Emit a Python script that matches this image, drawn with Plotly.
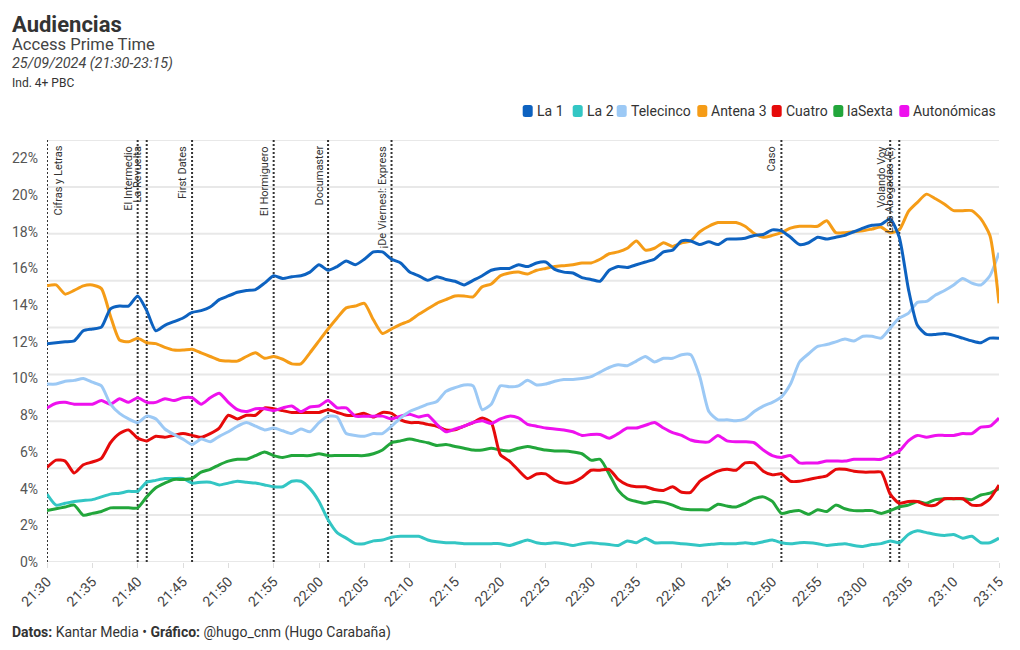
import plotly.graph_objects as go
import pandas as pd

# ---------------- DATA ----------------
times = pd.date_range("2024-09-25 21:30", "2024-09-25 23:15", freq="1min")

la1 = [11.9, 11.95, 12.0, 12.05, 12.6, 12.7, 12.8, 13.8, 13.95, 13.95,
       14.5, 13.7, 12.6, 12.9, 13.1, 13.3, 13.6, 13.7, 13.9, 14.3,
       14.5, 14.7, 14.8, 14.85, 15.2, 15.6, 15.45, 15.55, 15.6, 15.8,
       16.2, 15.9, 16.1, 16.4, 16.2, 16.5, 16.9, 16.9, 16.5, 16.3,
       15.8, 15.6, 15.35, 15.55, 15.4, 15.3, 15.1, 15.35, 15.6, 15.9,
       16.0, 16.0, 16.2, 16.1, 16.3, 16.35, 15.95, 15.8, 15.75, 15.5,
       15.4, 15.3, 15.9, 16.1, 16.05, 16.2, 16.35, 16.5, 16.9, 17.0,
       17.5, 17.5, 17.3, 17.45, 17.3, 17.6, 17.6, 17.65, 17.8, 17.85,
       18.1, 18.05, 17.7, 17.3, 17.4, 17.7, 17.6, 17.7, 17.8, 18.0,
       18.2, 18.35, 18.4, 18.7, 17.7, 14.9, 12.9, 12.4, 12.4, 12.45,
       12.35, 12.2, 12.05, 11.95, 12.2, 12.2]

la2 = [3.7, 3.1, 3.2, 3.3, 3.35, 3.4, 3.55, 3.7, 3.75, 3.85,
       3.85, 4.35, 4.45, 4.55, 4.55, 4.55, 4.3, 4.35, 4.35, 4.2,
       4.3, 4.4, 4.35, 4.3, 4.2, 4.1, 4.1, 4.4, 4.4, 4.0,
       3.3, 2.3, 1.6, 1.3, 1.0, 1.0, 1.15, 1.2, 1.35, 1.4,
       1.4, 1.4, 1.2, 1.1, 1.05, 1.05, 1.0, 1.0, 1.0, 1.0,
       1.0, 0.9, 1.05, 1.2, 1.05, 1.0, 1.05, 1.0, 0.9, 1.0,
       1.05, 1.0, 0.95, 0.9, 1.15, 1.05, 1.3, 1.05, 1.05, 1.05,
       1.0, 0.95, 0.9, 0.95, 1.0, 1.0, 1.0, 1.05, 1.0, 1.1,
       1.2, 1.05, 1.0, 1.05, 1.05, 1.0, 0.9, 0.95, 1.0, 0.9,
       0.85, 0.95, 1.0, 1.15, 1.05, 1.5, 1.7, 1.6, 1.5, 1.45,
       1.5, 1.3, 1.4, 1.05, 1.05, 1.3]

telecinco = [9.7, 9.7, 9.85, 9.9, 10.0, 9.8, 9.6, 8.6, 8.1, 7.8,
             7.6, 7.95, 7.8, 7.25, 6.95, 6.7, 6.4, 6.7, 6.55, 6.85,
             7.1, 7.4, 7.6, 7.4, 7.2, 7.3, 7.15, 7.0, 7.25, 7.1,
             7.6, 7.95, 7.9, 7.0, 6.9, 6.85, 7.0, 7.0, 7.4, 7.85,
             8.2, 8.4, 8.6, 8.75, 9.3, 9.5, 9.65, 9.6, 8.3, 8.6,
             9.6, 9.55, 9.6, 9.9, 9.65, 9.7, 9.85, 9.95, 9.95, 10.0,
             10.1, 10.35, 10.6, 10.75, 10.7, 10.95, 11.2, 10.9, 11.1, 11.1,
             11.3, 11.3, 10.1, 8.2, 7.75, 7.75, 7.7, 7.8, 8.2, 8.5,
             8.7, 9.0, 9.7, 10.9, 11.35, 11.75, 11.85, 12.0, 12.15, 12.05,
             12.3, 12.3, 12.2, 12.75, 13.3, 13.55, 14.15, 14.2, 14.55, 14.8,
             15.1, 15.45, 15.2, 15.1, 15.6, 16.85]

antena3 = [15.05, 15.1, 14.6, 14.8, 15.05, 15.1, 14.9, 13.4, 12.1, 12.0,
           12.2, 11.95, 11.9, 11.7, 11.55, 11.55, 11.6, 11.4, 11.2, 11.0,
           10.95, 10.95, 11.2, 11.4, 11.1, 11.2, 11.05, 10.8, 10.8, 11.4,
           12.05, 12.7, 13.3, 13.85, 13.95, 14.1, 13.2, 12.45, 12.7, 12.95,
           13.15, 13.5, 13.8, 14.1, 14.3, 14.5, 14.5, 14.45, 15.0, 15.15,
           15.6, 15.75, 15.8, 15.7, 15.9, 16.0, 16.1, 16.15, 16.2, 16.3,
           16.3, 16.5, 16.8, 16.9, 17.1, 17.5, 17.0, 17.1, 17.4, 17.2,
           17.4, 17.5, 18.0, 18.3, 18.5, 18.5, 18.5, 18.3, 17.9, 17.7,
           17.8, 17.95, 18.2, 18.3, 18.3, 18.3, 18.6, 17.95, 17.95, 18.0,
           18.05, 18.15, 18.25, 17.95, 18.1, 19.1, 19.6, 20.05, 19.8, 19.5,
           19.15, 19.15, 19.15, 18.7, 17.8, 14.1]

cuatro = [5.15, 5.55, 5.5, 4.85, 5.3, 5.45, 5.65, 6.5, 7.0, 7.2,
          6.75, 6.6, 6.85, 6.8, 6.9, 7.0, 6.9, 6.8, 7.0, 7.3,
          8.0, 7.8, 8.0, 8.0, 8.4, 8.35, 8.25, 8.15, 8.15, 8.15,
          8.15, 8.3, 8.15, 8.0, 8.0, 8.1, 7.9, 8.15, 8.1, 7.75,
          7.6, 7.6, 7.5, 7.4, 7.2, 7.2, 7.4, 7.6, 7.85, 7.6,
          5.85, 5.5, 5.0, 4.55, 4.8, 4.8, 4.45, 4.3, 4.35, 4.6,
          5.0, 5.0, 5.05, 4.5, 4.2, 4.1, 4.1, 3.95, 3.9, 4.1,
          3.8, 3.8, 4.4, 4.7, 4.95, 5.05, 5.0, 5.4, 5.4, 4.95,
          4.75, 4.8, 4.4, 4.4, 4.5, 4.6, 4.7, 5.05, 5.05, 4.95,
          4.9, 4.9, 4.9, 3.7, 3.2, 3.3, 3.3, 3.1, 3.1, 3.45,
          3.45, 3.45, 3.1, 3.1, 3.45, 4.2]

lasexta = [2.8, 2.9, 3.0, 3.1, 2.55, 2.65, 2.75, 2.95, 2.95, 2.95,
           2.95, 3.55, 4.05, 4.3, 4.5, 4.5, 4.55, 4.9, 5.05, 5.3,
           5.5, 5.6, 5.6, 5.8, 6.0, 5.8, 5.7, 5.8, 5.8, 5.8,
           5.9, 5.8, 5.8, 5.8, 5.8, 5.8, 5.9, 6.1, 6.5, 6.6,
           6.7, 6.6, 6.5, 6.35, 6.4, 6.3, 6.2, 6.1, 6.1, 6.2,
           6.1, 6.05, 6.2, 6.3, 6.2, 6.1, 6.05, 6.05, 6.0, 5.9,
           5.55, 5.6, 4.8, 3.9, 3.45, 3.3, 3.2, 3.3, 3.25, 3.1,
           2.9, 2.85, 2.85, 2.85, 3.15, 3.05, 3.0, 3.2, 3.45, 3.55,
           3.3, 2.65, 2.75, 2.8, 2.6, 2.85, 2.75, 3.1, 2.9, 2.8,
           2.8, 2.8, 2.65, 2.8, 3.0, 3.1, 3.3, 3.2, 3.4, 3.45,
           3.45, 3.45, 3.4, 3.65, 3.75, 4.0]

autonomicas = [8.4, 8.65, 8.7, 8.6, 8.6, 8.6, 8.8, 8.6, 8.9, 8.7,
               8.95, 8.7, 8.7, 8.9, 8.8, 8.95, 8.95, 8.6, 8.95, 9.2,
               8.7, 8.3, 8.2, 8.35, 8.35, 8.25, 8.4, 8.5, 8.2, 8.45,
               8.5, 8.8, 8.4, 8.4, 7.95, 7.95, 7.95, 7.95, 7.8, 7.95,
               8.05, 7.9, 8.0, 7.5, 7.1, 7.25, 7.4, 7.6, 7.7, 7.55,
               7.8, 7.95, 7.85, 7.5, 7.4, 7.3, 7.25, 7.2, 7.1, 6.9,
               6.95, 6.95, 6.75, 7.0, 7.3, 7.3, 7.45, 7.6, 7.3, 7.05,
               6.9, 6.65, 6.55, 6.55, 6.9, 6.6, 6.55, 6.55, 6.5, 6.1,
               5.8, 5.7, 5.8, 5.4, 5.4, 5.4, 5.5, 5.5, 5.5, 5.6,
               5.6, 5.6, 5.6, 5.8, 6.05, 6.6, 6.9, 6.8, 6.9, 6.9,
               6.9, 7.0, 7.0, 7.35, 7.4, 7.85]

series_names = ["La 1", "La 2", "Telecinco", "Antena 3", "Cuatro", "laSexta", "Autonómicas"]
series_values = [la1, la2, telecinco, antena3, cuatro, lasexta, autonomicas]
series_colors = ["#0d62c0", "#33c6c4", "#9cc9f5", "#f59c17", "#e60a0a", "#22a63b", "#ee11ee"]

program_times = ["21:30", "21:40", "21:41", "21:46", "21:55", "22:01", "22:08", "22:51", "23:03", "23:04"]
program_names = ["Cifras y Letras", "El Intermedio", "La Revuelta", "First Dates", "El Hormiguero",
                 "Documaster", "¡De Viernes!: Express", "Caso", "Volando Voy", "Las Abogadas (E)"]

y_tick_vals = list(range(0, 23, 2))
y_tick_text = [f"{v}%" for v in y_tick_vals]
y_max = 23
n_grid = 9

# ---------------- FIGURE ----------------
FONT = "Roboto, 'Open Sans', sans-serif"
fig = go.Figure()

# draw order: back to front
draw_order = [1, 5, 4, 6, 2, 3, 0]
for i in draw_order:
    fig.add_trace(go.Scatter(
        x=times, y=series_values[i], name=series_names[i], mode="lines",
        line=dict(color=series_colors[i], width=3, shape="spline", smoothing=0.6),
        showlegend=False, hoverinfo="skip"))

shapes = []
# horizontal gridlines
for k in range(n_grid + 1):
    yv = y_max * k / n_grid
    shapes.append(dict(type="line", xref="paper", yref="y", x0=0, x1=1, y0=yv, y1=yv,
                       line=dict(color="#e8e8e8", width=2), layer="below"))

annotations = []
day = "2024-09-25 "
for j, (t, name) in enumerate(zip(program_times, program_names)):
    shapes.append(dict(type="line", xref="x", yref="paper", x0=day + t, x1=day + t, y0=0, y1=1,
                       line=dict(color="#333333", width=2, dash="2px,2px"), layer="below"))
    first = (j == 0)
    annotations.append(dict(
        x=day + t, y=1, xref="x", yref="paper", text=name, showarrow=False,
        textangle=-90, xanchor="left" if first else "right", yanchor="top",
        xshift=2 if first else -1, yshift=-4,
        font=dict(family=FONT, size=11, color="#333333")))

# Titles (positioned in pixels relative to plot area)
plot_left, plot_top, plot_w, plot_h = 47, 140, 952, 422

def px_x(px):
    return (px - plot_left) / plot_w

def px_y(py):
    return (plot_top + plot_h - py) / plot_h

annotations += [
    dict(xref="paper", yref="paper", x=px_x(10), y=px_y(24), xanchor="left", yanchor="middle",
         text="<b>Audiencias</b>", showarrow=False, font=dict(family=FONT, size=22, color="#333333")),
    dict(xref="paper", yref="paper", x=px_x(10), y=px_y(45), xanchor="left", yanchor="middle",
         text="Access Prime Time", showarrow=False, font=dict(family=FONT, size=16.6, color="#444444")),
    dict(xref="paper", yref="paper", x=px_x(10), y=px_y(63), xanchor="left", yanchor="middle",
         text="<i>25/09/2024 (21:30-23:15)</i>", showarrow=False, font=dict(family=FONT, size=14.4, color="#444444")),
    dict(xref="paper", yref="paper", x=px_x(10), y=px_y(83), xanchor="left", yanchor="middle",
         text="Ind. 4+ PBC", showarrow=False, font=dict(family=FONT, size=12, color="#333333")),
    dict(xref="paper", yref="paper", x=px_x(10), y=px_y(632), xanchor="left", yanchor="middle",
         text="<b>Datos:</b> Kantar Media • <b>Gráfico:</b> @hugo_cnm (Hugo Carabaña)", showarrow=False,
         font=dict(family=FONT, size=14, color="#333333")),
]

# Manual legend (rounded squares + labels)
legend_left_px = [522.7, 572.7, 616.7, 697.3, 771.7, 833.3, 899.3]
legend_y_px = 111

def rounded_rect(w, h, r):
    x0, x1, y0, y1 = -w / 2, w / 2, -h / 2, h / 2
    return (f"M {x0 + r},{y0} L {x1 - r},{y0} Q {x1},{y0} {x1},{y0 + r} "
            f"L {x1},{y1 - r} Q {x1},{y1} {x1 - r},{y1} L {x0 + r},{y1} "
            f"Q {x0},{y1} {x0},{y1 - r} L {x0},{y0 + r} Q {x0},{y0} {x0 + r},{y0} Z")

for name, color, lx in zip(series_names, series_colors, legend_left_px):
    shapes.append(dict(type="path", xref="paper", yref="paper",
                       xsizemode="pixel", ysizemode="pixel",
                       xanchor=px_x(lx + 5), yanchor=px_y(legend_y_px),
                       path=rounded_rect(10, 12, 2.5), fillcolor=color, line=dict(width=0)))
    annotations.append(dict(xref="paper", yref="paper", x=px_x(lx + 12), y=px_y(legend_y_px),
                            xanchor="left", yanchor="middle", text=name, showarrow=False,
                            font=dict(family=FONT, size=14, color="#333333")))

fig.update_layout(
    width=1020, height=650,
    margin=dict(l=plot_left, r=1020 - plot_left - plot_w, t=plot_top, b=650 - plot_top - plot_h),
    paper_bgcolor="white", plot_bgcolor="white",
    font=dict(family=FONT, color="#444444"),
    shapes=shapes, annotations=annotations, showlegend=False,
    xaxis=dict(
        type="date", range=[day + "21:30", day + "23:15"],
        dtick=5 * 60 * 1000, tick0=day + "21:30", tickformat="%H:%M", tickangle=-45,
        showgrid=False, zeroline=False, showline=False,
        ticks="outside", ticklen=5, tickcolor="#dddddd", tickwidth=1,
        tickfont=dict(family=FONT, size=14, color="#444444")),
    yaxis=dict(
        range=[0, y_max], tickvals=y_tick_vals, ticktext=y_tick_text,
        showgrid=False, zeroline=False, showline=False, ticks="",
        ticklabelstandoff=8,
        tickfont=dict(family=FONT, size=14, color="#555555")),
)

fig.write_html("out.html", config={"displayModeBar": False})
